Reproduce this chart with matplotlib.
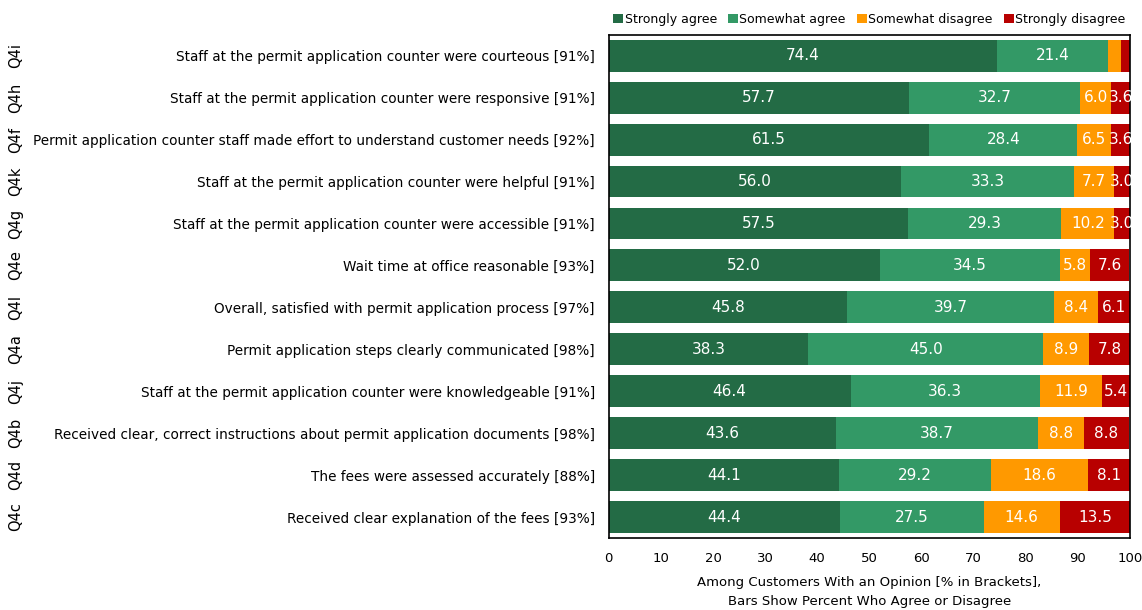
import numpy as np
import matplotlib.pyplot as plt
from matplotlib.transforms import blended_transform_factory

# survey items, top to bottom
codes = ["Q4i", "Q4h", "Q4f", "Q4k", "Q4g", "Q4e", "Q4l", "Q4a", "Q4j", "Q4b", "Q4d", "Q4c"]
items = [
  "Staff at the permit application counter were courteous [91%]",
  "Staff at the permit application counter were responsive [91%]",
  "Permit application counter staff made effort to understand customer needs [92%]",
  "Staff at the permit application counter were helpful [91%]",
  "Staff at the permit application counter were accessible [91%]",
  "Wait time at office reasonable [93%]",
  "Overall, satisfied with permit application process [97%]",
  "Permit application steps clearly communicated [98%]",
  "Staff at the permit application counter were knowledgeable [91%]",
  "Received clear, correct instructions about permit application documents [98%]",
  "The fees were assessed accurately [88%]",
  "Received clear explanation of the fees [93%]",
]

strongly_agree = [74.4, 57.7, 61.5, 56.0, 57.5, 52.0, 45.8, 38.3, 46.4, 43.6, 44.1, 44.4]
somewhat_agree = [21.4, 32.7, 28.4, 33.3, 29.3, 34.5, 39.7, 45.0, 36.3, 38.7, 29.2, 27.5]
somewhat_disagree = [2.4, 6.0, 6.5, 7.7, 10.2, 5.8, 8.4, 8.9, 11.9, 8.8, 18.6, 14.6]
strongly_disagree = [1.8, 3.6, 3.6, 3.0, 3.0, 7.6, 6.1, 7.8, 5.4, 8.8, 8.1, 13.5]

series = [
  ("Strongly agree", strongly_agree, "#236b45"),
  ("Somewhat agree", somewhat_agree, "#339966"),
  ("Somewhat disagree", somewhat_disagree, "#ff9900"),
  ("Strongly disagree", strongly_disagree, "#b80000"),
]

plt.rcParams["font.family"] = ["DejaVu Sans"]

fig = plt.figure(figsize=(11.42, 6.10), dpi=100)
ax = fig.add_axes([0.533, 0.118, 0.4565, 0.825])

y = np.arange(len(items))
left = np.zeros(len(items))
for name, vals, color in series:
  vals = np.asarray(vals)
  bars = ax.barh(y, vals, left=left, height=0.76, color=color, label=name)
  for rect, v in zip(bars, vals):
    if v >= 3.0:
      ax.text(rect.get_x() + rect.get_width() / 2, rect.get_y() + rect.get_height() / 2,
              f"{v:.1f}", ha="center", va="center", color="white", fontsize=11)
  left += vals

ax.set_xlim(0, 100)
ax.set_ylim(len(items) - 0.5, -0.5)
ax.set_xticks(np.arange(0, 101, 10))
ax.tick_params(axis="x", length=0, pad=10, labelsize=9.5)
ax.set_yticks(y)
ax.set_yticklabels(items, fontsize=9.8)
ax.tick_params(axis="y", length=0, pad=10)
for s in ax.spines.values():
  s.set_color("black")
  s.set_linewidth(1.2)

# question codes down the far left
trans = blended_transform_factory(fig.transFigure, ax.transData)
for yi, code in zip(y, codes):
  ax.text(0.014, yi, code, transform=trans, rotation=90, ha="center", va="center",
          fontsize=10.5)

ax.set_xlabel("Among Customers With an Opinion [% in Brackets],\nBars Show Percent Who Agree or Disagree",
              fontsize=9.5, labelpad=8, linespacing=1.6)

ax.legend(loc="lower center", bbox_to_anchor=(0.5, 1.0), ncol=4, frameon=False,
          handlelength=0.8, handleheight=0.8, handletextpad=0.1, columnspacing=0.9,
          fontsize=9, borderaxespad=0.3)

fig.savefig("out.png", dpi=100)
